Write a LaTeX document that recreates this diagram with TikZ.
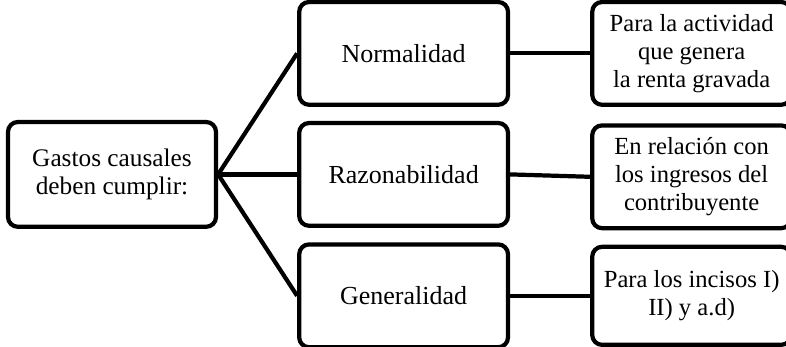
\documentclass[tikz,border=0pt]{standalone}
\usepackage{fontspec}
\setmainfont{Liberation Serif}
\usepackage{tikz}
\usetikzlibrary{positioning}

\begin{document}
\begin{tikzpicture}[node distance=0.4cm and 1.975cm,
  every node/.style={rectangle, draw, rounded corners=7pt, line width=3pt, align=center, minimum height=2.57cm, font=\fontsize{18}{20}\selectfont},
  midbox/.style={minimum width=5.22cm, font=\fontsize{18.5}{20}\selectfont},
  rightbox/.style={minimum width=4.97cm, inner sep=2pt, font=\fontsize{17.5}{19.8}\selectfont}]

\useasboundingbox (0,0) rectangle (19.65,-8.65);

\node[minimum width=5.2cm, minimum height=2.62cm] (gastos) at (2.8,-4.36) {Gastos causales\\deben cumplir:};
\node (razon) [midbox, right=of gastos] {Razonabilidad};
\node (normal) [midbox, above=0.35cm of razon] {Normalidad};
\node (general) [midbox, below=0.36cm of razon] {Generalidad};
\node (actividad) [rightbox, right=2cm of normal] {Para la actividad\\que genera\\la renta gravada};
\node (ingresos) [rightbox, right=2cm of razon, yshift=-0.06cm] {En relación con\\los ingresos del\\contribuyente};
\node (incisos) [rightbox, right=2cm of general, minimum height=2.45cm] {Para los incisos I)\\II) y a.d)};

\draw[line width=3pt] (gastos.east) -- (normal.west);
\draw[line width=3pt] (gastos.east) -- (razon.west);
\draw[line width=3pt] (gastos.east) -- (general.west);
\draw[line width=3pt] (normal.east) -- (actividad.west);
\draw[line width=3pt] (razon.east) -- (ingresos.west);
\draw[line width=3pt] (general.east) -- (incisos.west);

\end{tikzpicture}
\end{document}
